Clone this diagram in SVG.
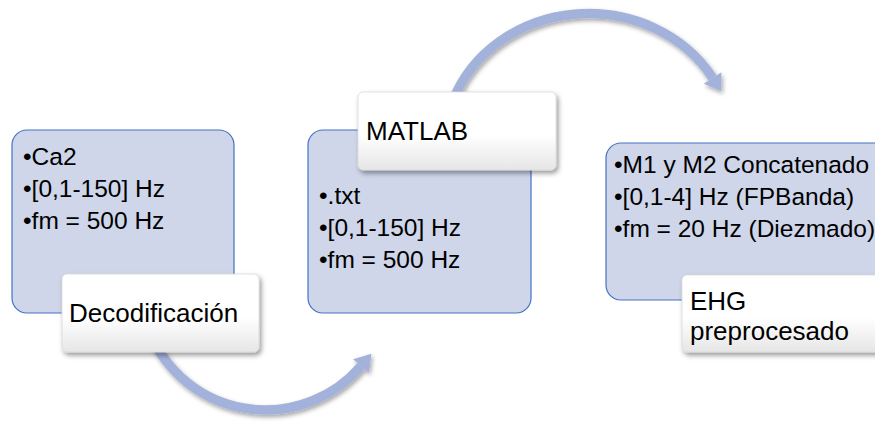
<svg xmlns="http://www.w3.org/2000/svg" width="875" height="423" viewBox="0 0 875 423">
  <style>
    .box { fill: #CFD6EA; stroke: #4472C4; stroke-width: 1.2; }
    .lbl { fill: url(#lblGrad); stroke: #D9D9D9; stroke-width: 0.8; filter: url(#shadow); }
    .bt { font-family: "Liberation Sans", Arial, sans-serif; font-size: 24.5px; fill: #000; }
    .lt { font-family: "Liberation Sans", Arial, sans-serif; font-size: 26px; fill: #000; }
    .arc { fill: none; stroke: #A3B2DB; stroke-width: 9.5; marker-end: url(#head); filter: url(#ashadow); }
  </style>
  <defs>
    <linearGradient id="lblGrad" x1="0" y1="0" x2="0" y2="1">
      <stop offset="0" stop-color="#FFFFFF"/>
      <stop offset="0.55" stop-color="#FFFFFF"/>
      <stop offset="1" stop-color="#E6E6E6"/>
    </linearGradient>
    <filter id="shadow" x="-10%" y="-20%" width="125%" height="150%">
      <feDropShadow dx="2" dy="3" stdDeviation="2.5" flood-color="#000" flood-opacity="0.4"/>
    </filter>
    <filter id="ashadow" x="-10%" y="-10%" width="130%" height="130%">
      <feDropShadow dx="1.5" dy="2.5" stdDeviation="2" flood-color="#000" flood-opacity="0.35"/>
    </filter>
    <marker id="head" markerUnits="userSpaceOnUse" markerWidth="18" markerHeight="22" refX="0" refY="11" orient="auto" overflow="visible">
      <path d="M0,0.5 L16,11 L0,21.5 z" fill="#A3B2DB"/>
    </marker>
  </defs>

  <g id="connectors">
    <path class="arc" d="M147.6,327.2 A125.5,125.5 0 0 0 361,366"/>
    <path class="arc" d="M452.7,101.5 A144,131 0 0 1 712.6,77.9"/>
  </g>

  <g id="node-decodificacion">
    <rect class="box" x="12" y="130" width="222" height="183" rx="15"/>
    <text class="bt" x="23" y="165">•Ca2</text>
    <text class="bt" x="23" y="197">•[0,1-150] Hz</text>
    <text class="bt" x="23" y="229">•fm = 500 Hz</text>
    <rect class="lbl" x="62" y="274" width="197" height="78" rx="5"/>
    <text class="lt" x="69" y="322">Decodificación</text>
  </g>

  <g id="node-matlab">
    <rect class="box" x="308" y="130" width="223" height="183" rx="15"/>
    <text class="bt" x="319" y="204">•.txt</text>
    <text class="bt" x="319" y="236">•[0,1-150] Hz</text>
    <text class="bt" x="319" y="268">•fm = 500 Hz</text>
    <rect class="lbl" x="358" y="92" width="198" height="78" rx="5"/>
    <text class="lt" x="366" y="140">MATLAB</text>
  </g>

  <g id="node-ehg">
    <rect class="box" x="606" y="143" width="290" height="157" rx="15"/>
    <text class="bt" x="614" y="173">•M1 y M2 Concatenado</text>
    <text class="bt" x="614" y="205">•[0,1-4] Hz (FPBanda)</text>
    <text class="bt" x="614" y="237">•fm = 20 Hz (Diezmado)</text>
    <rect class="lbl" x="682" y="275" width="210" height="77" rx="5"/>
    <text class="lt" x="690" y="310">EHG</text>
    <text class="lt" x="690" y="340">preprocesado</text>
  </g>
</svg>
